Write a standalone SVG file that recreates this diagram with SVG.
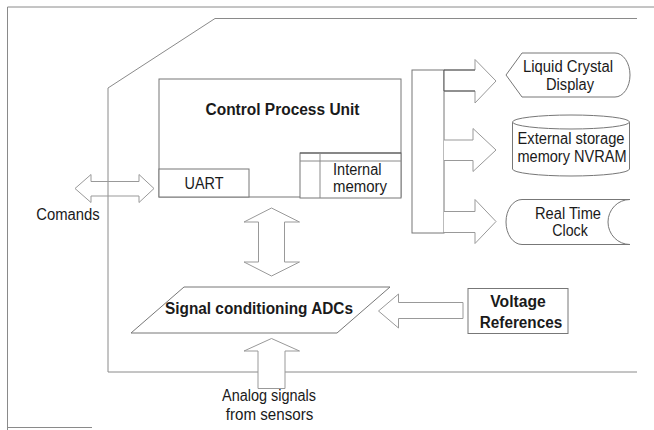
<svg xmlns="http://www.w3.org/2000/svg" width="654" height="430" viewBox="0 0 654 430">
  <style>
    .ln { fill: none; stroke: #8a8a8a; stroke-width: 1; }
    .box { fill: #ffffff; stroke: #777777; stroke-width: 1; }
    .dark { fill: none; stroke: #555555; stroke-width: 1; }
    .arr { fill: #ffffff; stroke: #999999; stroke-width: 1; stroke-linejoin: miter; }
    .arr-open { fill: none; stroke: #999999; stroke-width: 1; }
    text { font-family: "Liberation Sans", Arial, sans-serif; fill: #1a1a1a; font-size: 16px; }
    .tb { font-weight: bold; }
    .c { text-anchor: middle; }
  </style>

  <rect width="654" height="430" fill="#ffffff"/>

  <!-- page frame -->
  <g id="frame">
    <path class="ln" d="M7.5,430 V7 H654"/>
    <path class="ln" d="M7.5,427.5 H92"/>
  </g>

  <!-- board outline with chamfered corner -->
  <g id="board">
    <path class="ln" d="M637,18.5 H215 L108,88 V372 H637"/>
  </g>

  <!-- Control Process Unit -->
  <g id="cpu">
    <rect class="box" x="159" y="79" width="242" height="118"/>
    <text class="tb c" x="282.5" y="115" textLength="154" lengthAdjust="spacingAndGlyphs">Control Process Unit</text>
  </g>

  <g id="uart">
    <rect class="box" x="159" y="169" width="90" height="28"/>
    <text class="c" x="204" y="188.5" textLength="39" lengthAdjust="spacingAndGlyphs">UART</text>
  </g>

  <g id="internal-memory">
    <rect class="box" x="300" y="153" width="101" height="45"/>
    <line class="dark" x1="300" y1="153" x2="401" y2="153"/>
    <line class="ln" x1="300" y1="161" x2="401" y2="161"/>
    <line class="ln" x1="320" y1="153" x2="320" y2="198"/>
    <text x="333" y="175" textLength="48.5" lengthAdjust="spacingAndGlyphs">Internal</text>
    <text x="333" y="191.5" textLength="54" lengthAdjust="spacingAndGlyphs">memory</text>
  </g>

  <!-- output bus -->
  <g id="bus">
    <rect class="box" x="412" y="70" width="32" height="163"/>
  </g>

  <!-- peripherals -->
  <g id="lcd">
    <path class="box" d="M506,75 L522,53 H615 A15,22 0 0 1 615,97 H522 Z"/>
    <text class="c" x="568" y="72" textLength="90" lengthAdjust="spacingAndGlyphs">Liquid Crystal</text>
    <text class="c" x="570" y="90" textLength="48" lengthAdjust="spacingAndGlyphs">Display</text>
  </g>

  <g id="nvram">
    <path class="box" d="M512.5,122 V169 A58.5,7 0 0 0 629.5,169 V122"/>
    <ellipse class="box" cx="571" cy="122" rx="58.5" ry="7"/>
    <text class="c" x="571" y="144" textLength="107" lengthAdjust="spacingAndGlyphs">External storage</text>
    <text class="c" x="572" y="161.5" textLength="109" lengthAdjust="spacingAndGlyphs">memory NVRAM</text>
  </g>

  <g id="rtc">
    <path class="box" d="M522,199.5 H630 A22,22.5 0 0 0 630,244.5 H522 A16,22.5 0 0 1 522,199.5 Z"/>
    <text class="c" x="568" y="218.5" textLength="66" lengthAdjust="spacingAndGlyphs">Real Time</text>
    <text class="c" x="570" y="235.5" textLength="35.5" lengthAdjust="spacingAndGlyphs">Clock</text>
  </g>

  <!-- signal conditioning -->
  <g id="adc">
    <polygon class="box" points="184,287 390,287 337,333 131,333"/>
    <text class="tb c" x="259" y="314" textLength="188" lengthAdjust="spacingAndGlyphs">Signal conditioning ADCs</text>
  </g>

  <g id="vref">
    <rect class="box" x="468" y="288.5" width="100" height="45"/>
    <text class="tb c" x="518" y="307" textLength="55.5" lengthAdjust="spacingAndGlyphs">Voltage</text>
    <text class="tb c" x="521" y="327.5" textLength="82.5" lengthAdjust="spacingAndGlyphs">References</text>
  </g>

  <!-- external labels -->
  <g id="commands-label">
    <text class="c" x="68" y="220" textLength="63.5" lengthAdjust="spacingAndGlyphs">Comands</text>
  </g>
  <g id="analog-label">
    <text class="c" x="269" y="401" textLength="94" lengthAdjust="spacingAndGlyphs">Analog signals</text>
    <text class="c" x="269.5" y="420" textLength="87.5" lengthAdjust="spacingAndGlyphs">from sensors</text>
  </g>

  <!-- connectors: block arrows -->
  <g id="connectors">
    <polygon class="arr-open" points="75,188.5 91,174.5 91,181.5 139,181.5 139,174.5 154,188.5 139,202.5 139,196 91,196 91,202.5"/>
    <polygon class="arr" points="271.5,208 299.5,222 284.5,222 284.5,262 299.5,262 271.5,276 244,262 258.5,262 258.5,222 244,222"/>
    <polygon class="arr" points="271.5,338.5 299.5,351 285,351 285,388.5 258,388.5 258,351 244,351"/>
    <polygon class="arr" points="378.5,311 398.5,294 398.5,302.5 463,302.5 463,318.5 398.5,318.5 398.5,328"/>
    <path class="arr" d="M444,70 H475 V59.5 L496,81 L475,103 V91 H444"/>
    <path class="dark" d="M444,70 H475 M444,91 H475 M444,70 V91"/>
    <path class="arr" d="M444,140 H473 V128.5 L496,150 L473,171.5 V160.5 H444"/>
    <path class="arr" d="M444,211.5 H475 V199.5 L496,221.5 L475,243.5 V232.5 H444"/>
  </g>
</svg>
